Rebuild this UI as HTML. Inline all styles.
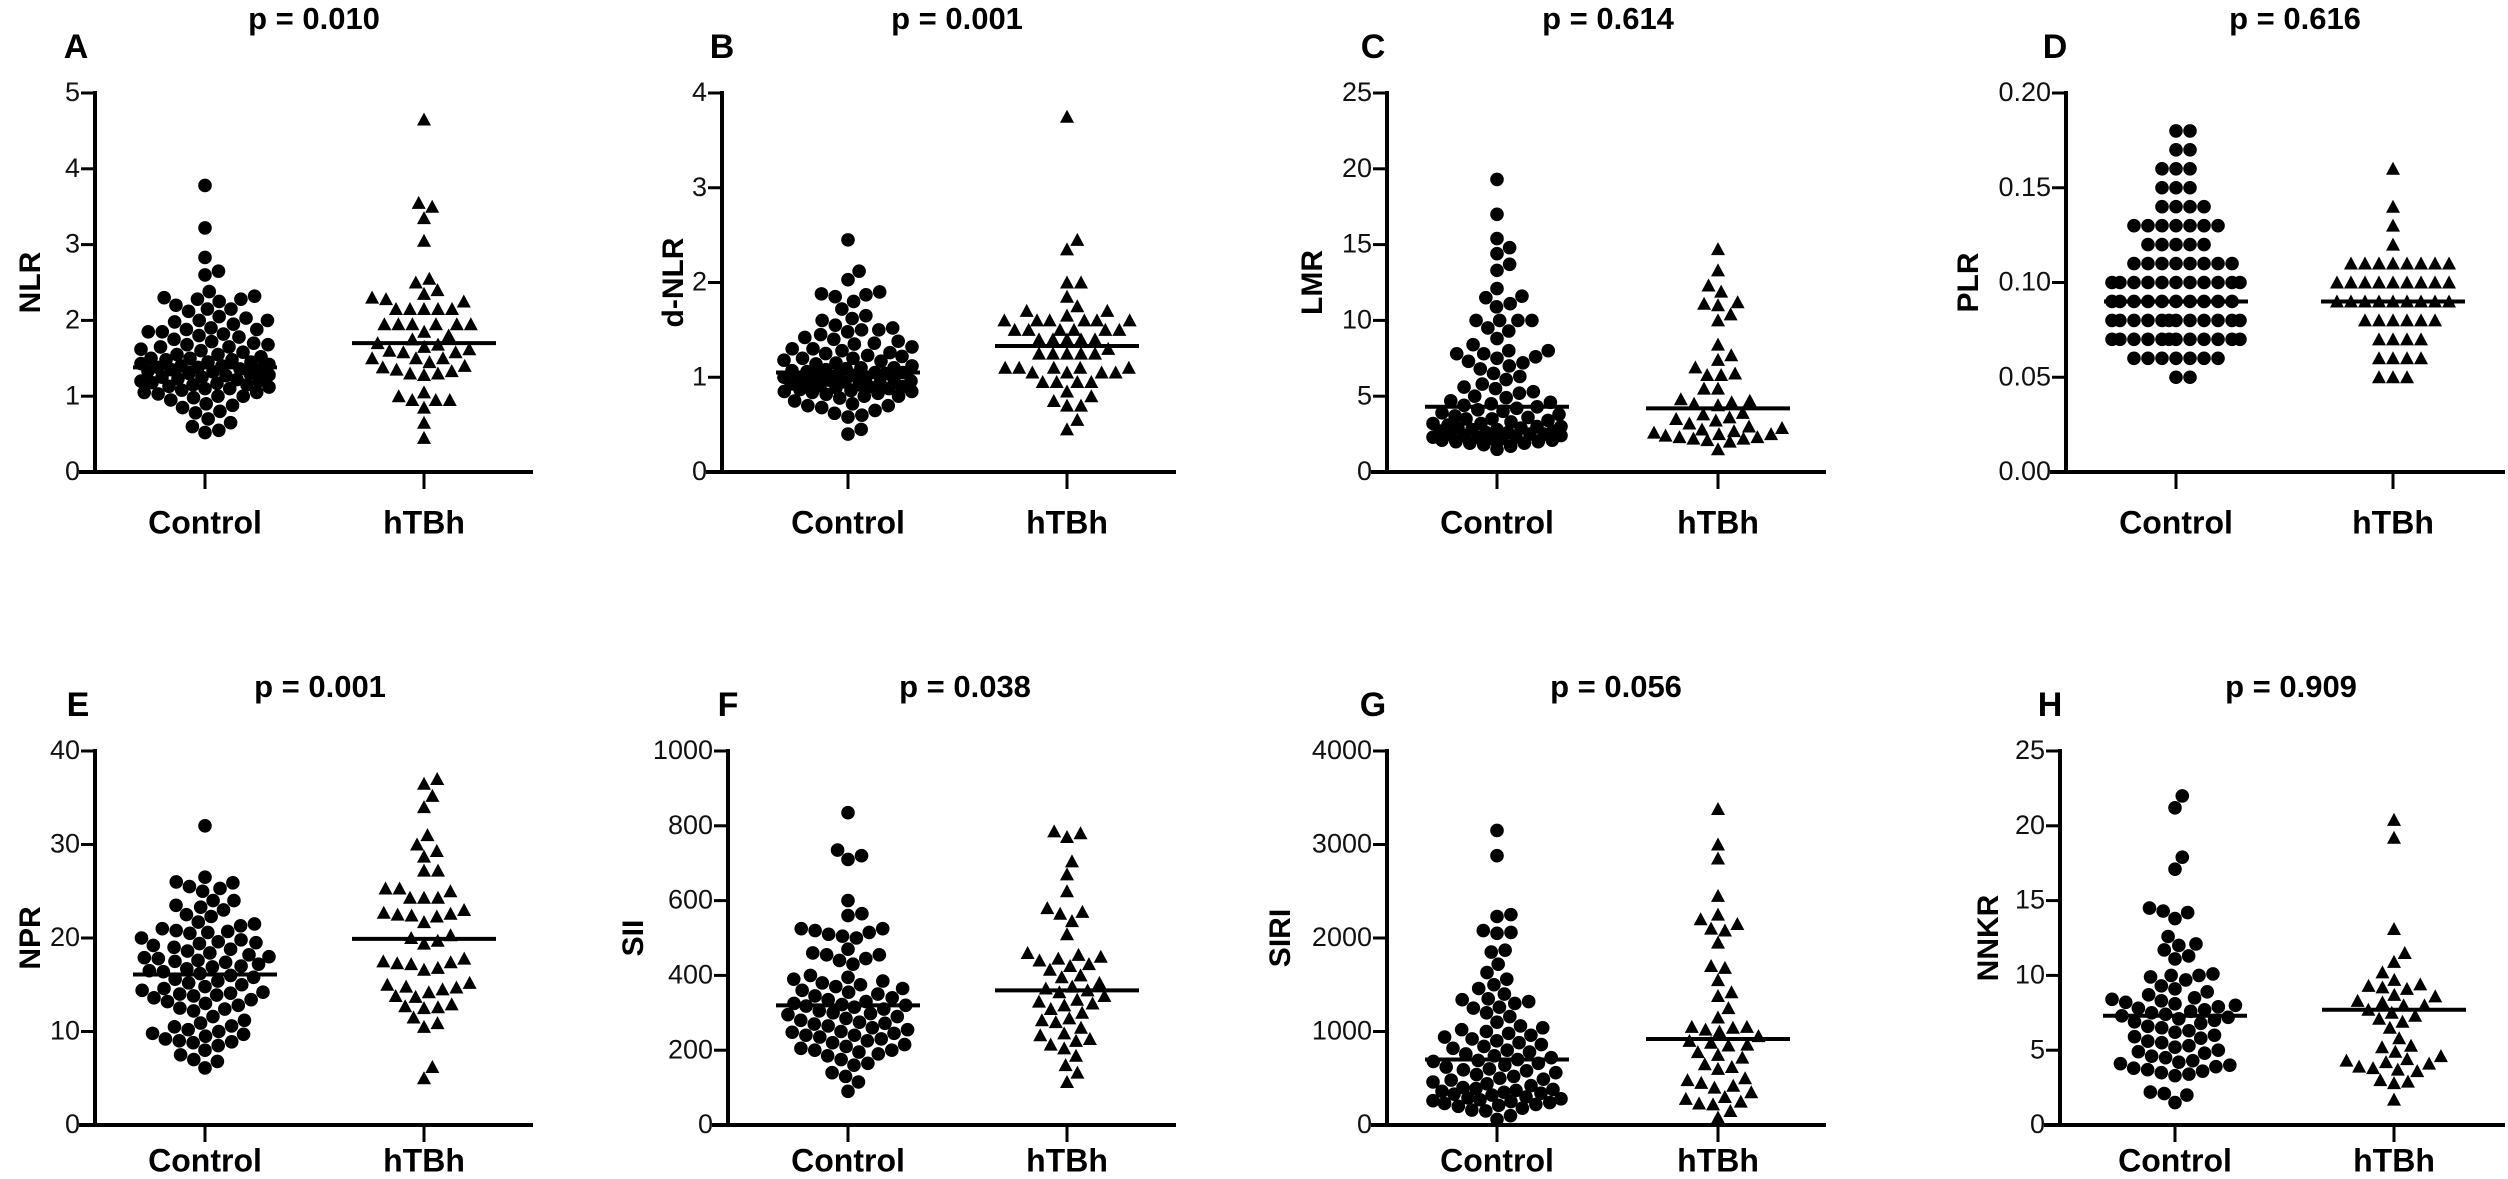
<!DOCTYPE html>
<html><head><meta charset="utf-8">
<style>
html,body{margin:0;padding:0;background:#fff;}
svg{display:block;font-family:"Liberation Sans",Arial,sans-serif;}
</style></head>
<body>
<svg id="fig" width="2508" height="1179" viewBox="0 0 2508 1179" xmlns="http://www.w3.org/2000/svg"></svg>
<script>
// ---- data ----
const categories = ["Control", "hTBh"];
const panelLetters = ["A","B","C","D","E","F","G","H"];
const yTitles = ["NLR","d-NLR","LMR","PLR","NPR","SII","SIRI","NNKR"];
const pValues = ["p = 0.010","p = 0.001","p = 0.614","p = 0.616","p = 0.001","p = 0.038","p = 0.056","p = 0.909"];
const yMax = [5, 4, 25, 0.20, 40, 1000, 4000, 25];
const yStep = [1, 1, 5, 0.05, 10, 200, 1000, 5];
const tickDecimals = [0,0,0,2,0,0,0,0];
const medianControl = [1.38, 1.05, 4.3, 0.09, 16.1, 320, 700, 7.3];
const medianHTBh = [1.70, 1.33, 4.2, 0.09, 19.9, 360, 920, 7.7];

const ctrlA = [3.78,3.22,2.83,2.65,2.6,2.38,2.32,2.3,2.28,2.28,2.25,2.2,2.15,2.15,2.12,2.05,2.03,2.0,2.0,1.98,1.95,1.9,1.88,1.88,1.85,1.85,1.82,1.8,1.78,1.75,1.72,1.7,1.68,1.68,1.65,1.65,1.62,1.6,1.58,1.55,1.55,1.52,1.5,1.5,1.48,1.48,1.45,1.45,1.43,1.42,1.4,1.4,1.38,1.38,1.36,1.35,1.35,1.33,1.32,1.3,1.3,1.28,1.27,1.25,1.25,1.23,1.22,1.2,1.2,1.18,1.17,1.15,1.15,1.13,1.12,1.1,1.1,1.08,1.05,1.05,1.03,1.0,1.0,0.98,0.95,0.9,0.88,0.85,0.8,0.78,0.7,0.65,0.6,0.55,0.52];
const htbA = [4.65,3.55,3.5,3.35,3.05,2.55,2.5,2.4,2.35,2.3,2.28,2.25,2.15,2.15,2.15,2.15,2.15,1.95,1.95,1.95,1.95,1.95,1.95,1.85,1.8,1.75,1.7,1.68,1.65,1.62,1.6,1.58,1.58,1.5,1.5,1.5,1.45,1.4,1.38,1.35,1.33,1.3,1.3,1.28,1.05,1.0,0.95,0.95,0.95,0.85,0.65,0.45];
const ctrlB = [2.45,2.12,2.03,1.9,1.88,1.87,1.85,1.8,1.72,1.65,1.62,1.6,1.55,1.52,1.5,1.5,1.48,1.45,1.42,1.4,1.38,1.36,1.35,1.32,1.3,1.3,1.28,1.26,1.25,1.23,1.22,1.2,1.2,1.18,1.17,1.15,1.14,1.12,1.1,1.1,1.09,1.08,1.07,1.06,1.05,1.05,1.04,1.03,1.02,1.01,1.0,1.0,0.99,0.98,0.97,0.96,0.95,0.95,0.94,0.93,0.92,0.91,0.9,0.9,0.89,0.88,0.87,0.86,0.85,0.85,0.84,0.83,0.82,0.8,0.8,0.78,0.75,0.72,0.7,0.7,0.68,0.65,0.62,0.6,0.58,0.45,0.4];
const htbB = [3.75,2.45,2.35,2.0,2.0,1.85,1.75,1.7,1.7,1.65,1.6,1.6,1.6,1.6,1.6,1.6,1.5,1.5,1.5,1.5,1.5,1.5,1.4,1.4,1.4,1.4,1.4,1.3,1.25,1.25,1.25,1.25,1.25,1.1,1.1,1.1,1.1,1.1,1.05,1.05,1.05,1.05,0.95,0.95,0.95,0.95,0.85,0.8,0.75,0.7,0.7,0.55,0.45];
const ctrlC = [19.3,17,15.4,14.8,14.4,13.7,13.3,12.1,11.6,11.5,11.1,10.9,10,10,10,10,9.5,9.3,8.8,8.4,8,8,7.8,7.8,7.6,7.5,7.3,7.2,7,6.8,6.5,6.3,6.1,5.8,5.6,5.5,5.3,5.2,5,4.9,4.7,4.6,4.5,4.4,4.3,4.2,4.1,4.0,3.9,3.8,3.7,3.6,3.5,3.5,3.4,3.3,3.2,3.2,3.1,3.0,3.0,2.9,2.9,2.8,2.8,2.7,2.7,2.6,2.6,2.5,2.5,2.5,2.4,2.4,2.3,2.3,2.3,2.2,2.2,2.1,2.1,2.0,2.0,1.9,1.9,1.8,1.7,1.5];
const htbC = [14.7,13.3,12.3,11.9,11.2,11,11.1,10.4,10,8.4,7.7,7.4,6.9,6.5,6.4,6.4,5.5,5.5,4.8,4.7,4.6,4.5,4.4,3.9,3.8,3.6,3.5,3.4,3.2,3.0,2.9,2.8,2.7,2.6,2.5,2.5,2.4,2.3,2.3,2.2,2.2,2.1,2.0,1.5];
const ctrlD = [0.18,0.18,0.17,0.17,0.16,0.16,0.16,0.15,0.15,0.15,0.14,0.14,0.14,0.14,0.13,0.13,0.13,0.13,0.13,0.13,0.13,0.12,0.12,0.12,0.12,0.12,0.11,0.11,0.11,0.11,0.11,0.11,0.11,0.11,0.10,0.10,0.10,0.10,0.10,0.10,0.10,0.10,0.10,0.10,0.10,0.09,0.09,0.09,0.09,0.09,0.09,0.09,0.09,0.09,0.09,0.08,0.08,0.08,0.08,0.08,0.08,0.08,0.08,0.08,0.08,0.08,0.08,0.07,0.07,0.07,0.07,0.07,0.07,0.07,0.07,0.07,0.07,0.07,0.07,0.06,0.06,0.06,0.06,0.06,0.06,0.06,0.05,0.05];
const htbD = [0.16,0.14,0.13,0.12,0.11,0.11,0.11,0.11,0.11,0.11,0.11,0.11,0.10,0.10,0.10,0.10,0.10,0.10,0.10,0.10,0.10,0.09,0.09,0.09,0.09,0.09,0.09,0.09,0.09,0.09,0.08,0.08,0.08,0.08,0.08,0.08,0.07,0.07,0.07,0.07,0.06,0.06,0.06,0.06,0.05,0.05,0.05];
const ctrlE = [32,26.5,26,25.9,25.5,25.3,25,24,24,23.5,23.3,23,22.5,22.3,21.7,21.5,21.3,21,20.8,20.7,20.6,20.5,20,19.8,19.6,19.5,19.4,19.2,19.0,18.8,18.6,18.4,18.2,18.0,17.9,17.8,17.6,17.5,17.4,17.2,17.0,16.9,16.7,16.5,16.4,16.2,16.0,15.8,15.6,15.4,15.2,15.0,14.8,14.6,14.4,14.2,14.1,14.0,13.9,13.8,13.6,13.4,13.2,13.0,12.8,12.5,12.4,12.2,11.6,11.2,10.9,10.6,10.5,10.2,10,9.8,9.7,9.5,9.2,9,8.9,8.8,8.5,8,7.5,7,6.8,6.1];
const htbE = [37,36.5,35.2,34,31,30,29.3,28.7,27.2,27.2,25.3,25.3,25,24.3,24.3,24.3,23,22.7,22.6,22.5,22.4,22.3,21.7,20.3,20,19.7,19.4,17.8,17.5,17.4,17.3,17.2,16.8,16.6,15.2,15,14.8,14.7,14.5,14.2,13.8,13.7,12.9,12.7,12.6,12.5,11.5,10.9,10.5,6.2,5];
const ctrlF = [835,735,720,710,600,565,560,525,525,520,515,510,505,500,470,460,455,455,445,440,430,400,395,390,385,380,375,370,365,360,355,350,345,340,335,330,325,322,320,318,315,310,305,300,298,295,290,285,280,275,272,270,265,260,255,250,248,245,240,240,235,230,225,220,215,210,205,200,200,195,190,185,175,165,160,140,130,115,90];
const htbF = [785,780,770,705,670,625,580,570,565,545,510,460,455,450,445,440,430,425,415,400,395,380,370,365,360,355,345,335,330,325,320,310,300,285,280,275,260,245,240,230,225,215,205,185,160,140,115];
const ctrlG = [3150,2880,2250,2230,2080,2060,2050,1870,1850,1720,1630,1560,1500,1460,1400,1350,1340,1320,1300,1260,1250,1200,1160,1100,1060,1040,1020,1000,980,960,940,920,900,880,860,840,820,800,780,760,740,720,700,690,680,660,640,620,600,590,580,560,540,520,500,490,480,460,440,420,400,390,380,370,360,350,340,330,320,300,290,280,270,260,250,240,230,220,210,200,180,160,150,100,60];
const htbG = [3380,3000,2850,2450,2250,2200,2150,2100,2080,1950,1700,1680,1550,1420,1380,1250,1150,1050,1050,1040,1020,1000,950,900,880,860,850,780,750,720,650,620,600,500,480,450,420,400,350,300,280,250,230,220,150,80];
const ctrlH = [22,21.2,17.9,17.1,14.5,14.3,14.2,13.8,12.6,12.1,12,11.7,11.3,11.1,10.1,10,10,9.9,9.7,9.3,9.1,8.9,8.7,8.5,8.4,8.3,8.2,8.1,8.0,7.9,7.8,7.7,7.6,7.5,7.4,7.3,7.2,7.1,7.0,6.9,6.8,6.6,6.5,6.3,6.2,6.0,5.9,5.8,5.6,5.5,5.3,5.2,5.0,4.9,4.8,4.6,4.5,4.3,4.2,4.1,4.0,3.9,3.8,3.7,3.6,3.5,3.4,3.3,2.2,2.1,2.0,1.5];
const htbH = [20.4,19.2,13.1,11.5,10.9,10.2,9.7,9.4,9.3,9.2,9.1,8.7,8.6,8.3,8.2,8.0,8.0,7.7,7.5,7.3,7.1,6.9,6.5,5.8,5.3,5.2,4.9,4.6,4.4,4.3,4.2,4.1,3.9,3.8,3.7,3.6,3.0,2.9,2.8,1.7];

const controlSeries = [ctrlA,ctrlB,ctrlC,ctrlD,ctrlE,ctrlF,ctrlG,ctrlH];
const htbhSeries = [htbA,htbB,htbC,htbD,htbE,htbF,htbG,htbH];

// ---- layout ----
const NS = "http://www.w3.org/2000/svg";
const svg = document.getElementById("fig");
const layout = [
 {ax:95, ylx:32, lx:76, px:314, ctrl:205, htb:424, end:533, row:0},
 {ax:722, ylx:675, lx:722, px:957, ctrl:848, htb:1067, end:1176, row:0},
 {ax:1387, ylx:1314, lx:1373, px:1608, ctrl:1497, htb:1718, end:1826, row:0},
 {ax:2066, ylx:1970, lx:2055, px:2295, ctrl:2176, htb:2393, end:2505, row:0},
 {ax:95, ylx:32, lx:78, px:320, ctrl:205, htb:424, end:533, row:1},
 {ax:728, ylx:635, lx:728, px:965, ctrl:848, htb:1067, end:1176, row:1},
 {ax:1387, ylx:1282, lx:1373, px:1616, ctrl:1497, htb:1718, end:1826, row:1},
 {ax:2060, ylx:1990, lx:2050, px:2291, ctrl:2175, htb:2394, end:2505, row:1}
];
const rows = [{top:93, bot:472, p:21, letter:49, cat:525},{top:751, bot:1125, p:689, letter:707, cat:1163}];

function el(tag, attrs, parent){const e=document.createElementNS(NS,tag);for(const k in attrs)e.setAttribute(k,attrs[k]);(parent||svg).appendChild(e);return e;}

function swarm(vals, yFn, d, cap){
  const sorted = vals.map(v=>({v, y:yFn(v)})).sort((a,b)=>b.y-a.y);
  const placed=[];
  for(const p of sorted){
    const near = placed.filter(q=>Math.abs(q.y-p.y)<d);
    const cands=[0];
    for(const q of near){const dx=Math.sqrt(d*d-(q.y-p.y)**2)+0.01;cands.push(q.x+dx,q.x-dx);}
    cands.sort((a,b)=>Math.abs(a)-Math.abs(b));
    let found=null;
    for(const c of cands){ if(Math.abs(c)<=cap && near.every(q=>(q.x-c)**2+(q.y-p.y)**2>=d*d-0.001)){found=c;break;} }
    if(found===null){
      // crowded: pick position within cap that is farthest from neighbours
      let best=0,bestD=-1;
      for(let c=-cap;c<=cap;c+=1){
        let m=Infinity;for(const q of near){const dd=(q.x-c)**2+(q.y-p.y)**2;if(dd<m)m=dd;}
        if(m>bestD){bestD=m;best=c;}
      }
      found=best;
    }
    p.x=found;
    placed.push(p);
  }
  return placed;
}

for(let i=0;i<8;i++){
  const L=layout[i], R=rows[L.row];
  const g=el("g",{});
  
  
  const y=v=>R.bot-(v/yMax[i])*(R.bot-R.top);

  const t1=el("text",{x:L.lx,y:R.letter,"font-size":34,"font-weight":"bold","text-anchor":"middle","dominant-baseline":"middle"},g);
  t1.textContent=panelLetters[i];
  
  
  const t2=el("text",{x:L.px,y:R.p,"font-size":31,"font-weight":"bold","text-anchor":"middle","dominant-baseline":"middle"},g);
  t2.textContent=pValues[i];
  
  
  const t3=el("text",{x:L.ylx,y:(R.top+R.bot)/2,"font-size":30,"font-weight":"bold","text-anchor":"middle","dominant-baseline":"middle",transform:`rotate(-90 ${L.ylx} ${(R.top+R.bot)/2})`},g);
  t3.textContent=yTitles[i];
  
  

  const ya=el("line",{x1:L.ax,y1:R.top-2,x2:L.ax,y2:R.bot+2,stroke:"#000","stroke-width":4},g);
  
  
  const xa=el("line",{x1:L.ax-16,y1:R.bot,x2:L.end,y2:R.bot,stroke:"#000","stroke-width":4},g);
  
  
  const nT=Math.round(yMax[i]/yStep[i]);
  for(let k=0;k<=nT;k++){
    const v=k*yStep[i], yy=y(v);
    if(k>0){const tk=el("line",{x1:L.ax-14,y1:yy,x2:L.ax,y2:yy,stroke:"#000","stroke-width":3},g);
    
    }
    const tl=el("text",{x:L.ax-15,y:yy+1,"font-size":27,"text-anchor":"end","dominant-baseline":"middle",fill:"#111"},g);
    tl.textContent=v.toFixed(tickDecimals[i]);
    
    
  }
  [L.ctrl,L.htb].forEach((cx,ci)=>{
    const tk=el("line",{x1:cx,y1:R.bot,x2:cx,y2:R.bot+17,stroke:"#000","stroke-width":3},g);
    
    
    const tl=el("text",{x:cx,y:R.cat,"font-size":32,"font-weight":"bold","text-anchor":"middle","dominant-baseline":"middle"},g);
    tl.textContent=categories[ci];
    
    
  });

  const D=14, CAP=64;
  swarm(controlSeries[i],y,D,CAP).forEach(p=>{
    const c=el("circle",{cx:L.ctrl+p.x,cy:p.y,r:6.8,fill:"#000"},g);
    
    
  });
  swarm(htbhSeries[i],y,D,CAP).forEach(p=>{
    const x=L.htb+p.x, yy=p.y;
    const t=el("polygon",{points:`${x},${yy-7} ${x-7},${yy+6} ${x+7},${yy+6}`,fill:"#000"},g);
    
    
  });
  const m1=el("line",{x1:L.ctrl-72,x2:L.ctrl+72,y1:y(medianControl[i]),y2:y(medianControl[i]),stroke:"#000","stroke-width":4},g);
  
  
  const m2=el("line",{x1:L.htb-72,x2:L.htb+72,y1:y(medianHTBh[i]),y2:y(medianHTBh[i]),stroke:"#000","stroke-width":4},g);
  
  
}
</script>
</body></html>
